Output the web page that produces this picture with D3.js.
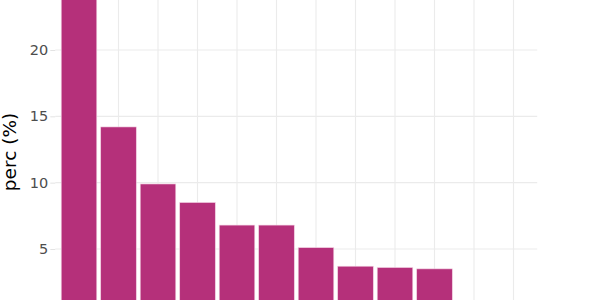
<!DOCTYPE html>
<html><head><meta charset="utf-8">
<script src="https://cdn.jsdelivr.net/npm/d3@7"></script>
<style>body{margin:0;background:#fff}svg{display:block}</style>
</head><body>
<svg id="c" width="600" height="300"></svg>
<script>
const categories = ["A","B","C","D","E","F","G","H","I","J","K","L"];
const values = [28, 14.2, 9.9, 8.5, 6.8, 6.8, 5.1, 3.7, 3.6, 3.5, 0.8, 0.5];
const yTicks = [5, 10, 15, 20];
const yLabel = "perc (%)";

const svg = d3.select("#c");
const left = 55.3, right = 537.2;
const step = (right - left) / (categories.length + 0.2);
const xc = d3.scalePoint().domain(categories).range([left + 0.6 * step, right - 0.6 * step]);
const y = d3.scaleLinear().domain([0, 20]).range([315.3, 50]);

const g = svg.append("g");
g.selectAll("line.h").data([0, ...yTicks, 25]).join("line")
  .attr("x1", left).attr("x2", right)
  .attr("y1", d => y(d)).attr("y2", d => y(d))
  .attr("stroke", "#ebebeb").attr("stroke-width", 1.1);
g.selectAll("line.v").data(categories).join("line")
  .attr("x1", d => xc(d)).attr("x2", d => xc(d))
  .attr("y1", -10).attr("y2", 330)
  .attr("stroke", "#ebebeb").attr("stroke-width", 1.1);

const bw = step * 0.9;
g.selectAll("rect").data(values).join("rect")
  .attr("x", (d, i) => xc(categories[i]) - bw / 2)
  .attr("width", bw)
  .attr("y", d => y(d))
  .attr("height", d => y(0) - y(d))
  .attr("fill", "#b5307a")
  .attr("stroke", "#f2cfe1").attr("stroke-width", 0.6);

const ya = svg.append("g").attr("transform", `translate(${left},0)`)
  .call(d3.axisLeft(y).tickValues(yTicks).tickSize(5).tickPadding(2));
ya.select(".domain").remove();
ya.selectAll(".tick line").attr("stroke", "#e3e3e3");
ya.selectAll(".tick text").attr("fill", "#4d4d4d")
  .attr("font-family", "DejaVu Sans, Verdana, sans-serif").attr("font-size", 14.5);

svg.append("text")
  .attr("transform", "translate(16,152) rotate(-90)")
  .attr("text-anchor", "middle")
  .attr("font-family", "DejaVu Sans, Verdana, sans-serif")
  .attr("font-size", 18.5).attr("fill", "#000")
  .text(yLabel);
</script>
</body></html>
